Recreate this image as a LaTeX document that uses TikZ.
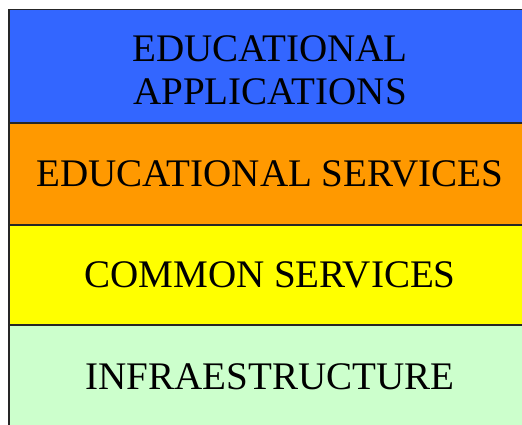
\documentclass[tikz,border=0pt]{standalone}
\usepackage{fontspec}
\setmainfont{Liberation Serif}
\usepackage{tikz}
\usetikzlibrary{positioning}

\definecolor{appblue}{HTML}{3366FF}
\definecolor{svcorange}{HTML}{FF9900}
\definecolor{comyellow}{HTML}{FFFF00}
\definecolor{infgreen}{HTML}{CCFFCC}

\begin{document}
\begin{tikzpicture}[
  layer/.style={draw=black!85, line width=1pt, rectangle, outer sep=0pt, inner sep=0pt,
    minimum width=13.06cm, align=center,
    font=\fontsize{27.8}{30.8}\selectfont}]
\useasboundingbox (0,0) rectangle (13.05,-10.625);
\clip (0,0) rectangle (13.05,-10.625);
% Layered architecture, top to bottom
\node[layer, fill=appblue, minimum height=2.84cm, text height=1.93cm] (apps) at (6.75,-1.656) {EDUCATIONAL\\APPLICATIONS};
\node[layer, fill=svcorange, minimum height=2.55cm, below=0pt of apps] (edusvc) {EDUCATIONAL SERVICES};
\node[layer, fill=comyellow, minimum height=2.5cm, below=0pt of edusvc] (common) {COMMON SERVICES};
\node[layer, fill=infgreen, minimum height=2.6cm, below=0pt of common] (infra) {INFRAESTRUCTURE};
\end{tikzpicture}
\end{document}
